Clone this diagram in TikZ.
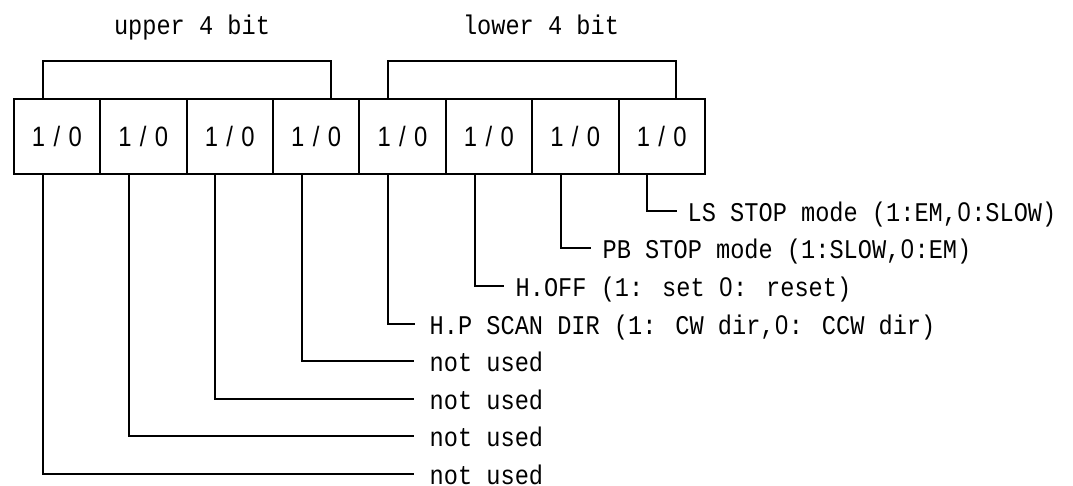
\documentclass[tikz,border=0pt]{standalone}
\usepackage{fontspec}
\usetikzlibrary{calc}

\newfontfamily\descfont[FakeStretch=0.875]{Liberation Mono}
\newfontfamily\zerofont[FakeStretch=0.875]{Liberation Sans}
\newfontfamily\bitfont[FakeStretch=0.85,LetterSpace=30]{Liberation Sans}
% plain (undotted) zero on the mono pitch
\newcommand{\zr}{\makebox[\fontcharwd\font`0]{\zerofont 0}}

\tikzset{
  bitcell/.style={draw, line width=2pt, minimum width=86.4pt, minimum height=74.7pt,
    inner sep=0pt, outer sep=0pt, font=\bitfont\fontsize{28}{30}\selectfont},
  desc/.style={anchor=west, inner sep=0pt, text height=21pt, text depth=0pt,
    font=\descfont\fontsize{27}{30}\selectfont},
  grouplbl/.style={anchor=base, inner sep=0pt, font=\descfont\fontsize{27}{30}\selectfont},
  lead/.style={line width=2pt}
}

\begin{document}
\begin{tikzpicture}[x=1pt,y=-1pt]
\useasboundingbox (0,0) rectangle (1073,485);

% register cells, bit 7 on the left
\node[bitcell] (b7) at (56.9,136.7) {1/0};
\node[bitcell] (b6) at (143.3,136.7) {1/0};
\node[bitcell] (b5) at (229.7,136.7) {1/0};
\node[bitcell] (b4) at (316.1,136.7) {1/0};
\node[bitcell] (b3) at (402.5,136.7) {1/0};
\node[bitcell] (b2) at (488.9,136.7) {1/0};
\node[bitcell] (b1) at (575.3,136.7) {1/0};
\node[bitcell] (b0) at (661.7,136.7) {1/0};

% nibble brackets
\draw[lead] ($(b7.north west)!1/3!(b7.north east)$) -- ++(0,-38.3)
  -| ($(b4.north west)!2/3!(b4.north east)$);
\draw[lead] ($(b3.north west)!1/3!(b3.north east)$) -- ++(0,-38.3)
  -| ($(b0.north west)!2/3!(b0.north east)$);
\node[grouplbl] (upper) at (192,34) {upper 4 bit};
\node[grouplbl] (lower) at (541,34) {lower 4 bit};

% lead-off points
\coordinate (p7) at ($(b7.south west)!1/3!(b7.south east)$);
\coordinate (p6) at ($(b6.south west)!1/3!(b6.south east)$);
\coordinate (p5) at ($(b5.south west)!1/3!(b5.south east)$);
\coordinate (p4) at ($(b4.south west)!1/3!(b4.south east)$);
\coordinate (p3) at ($(b3.south west)!1/3!(b3.south east)$);
\coordinate (p2) at ($(b2.south west)!1/3!(b2.south east)$);
\coordinate (p1) at ($(b1.south west)!1/3!(b1.south east)$);
\coordinate (p0) at ($(b0.south west)!1/3!(b0.south east)$);

% bit descriptions
\node[desc] (d0) at (687.5,210.7) {LS STOP mode (1:EM,\zr:SLOW)};
\node[desc] (d1) at (602.5,248.3) {PB STOP mode (1:SLOW,\zr:EM)};
\node[desc] (d2) at (515.5,286) {H.OFF (1: set \zr: reset)};
\node[desc] (d3) at (429.5,323.6) {H.P SCAN DIR (1: CW dir,\zr: CCW dir)};
\node[desc] (d4) at (429.5,361.2) {not used};
\node[desc] (d5) at (429.5,398.8) {not used};
\node[desc] (d6) at (429.5,436.4) {not used};
\node[desc] (d7) at (429.5,473.6) {not used};

\draw[lead, shorten >=11pt] (p0) |- (d0.west);
\draw[lead, shorten >=12pt] (p1) |- (d1.west);
\draw[lead, shorten >=11.5pt] (p2) |- (d2.west);
\draw[lead, shorten >=14.5pt] (p3) |- (d3.west);
\draw[lead, shorten >=15.5pt] (p4) |- (d4.west);
\draw[lead, shorten >=15.5pt] (p5) |- (d5.west);
\draw[lead, shorten >=15.5pt] (p6) |- (d6.west);
\draw[lead, shorten >=15.5pt] (p7) |- (d7.west);

\end{tikzpicture}
\end{document}
